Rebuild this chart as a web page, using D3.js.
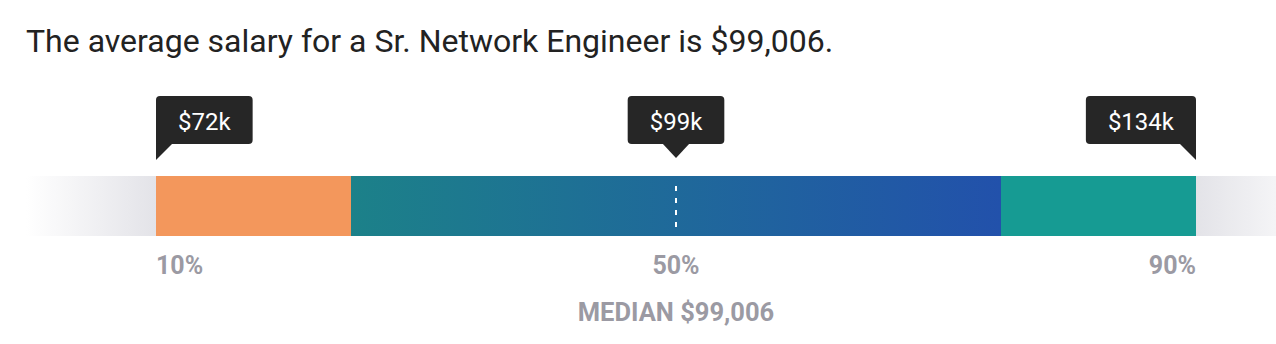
<!DOCTYPE html>
<html>
<head>
<meta charset="utf-8">
<script src="https://cdn.jsdelivr.net/npm/d3@7"></script>
<style>
  html, body { margin: 0; padding: 0; background: #ffffff; }
  svg { display: block; font-family: Roboto, "Noto Sans", sans-serif; }
</style>
</head>
<body>
<svg id="chart" width="1276" height="344"></svg>
<script>
// Salary percentile strip for a Sr. Network Engineer
const titleText = "The average salary for a Sr. Network Engineer is $99,006.";

// Percentile markers with their salary callouts
const markerPercentiles = [10, 50, 90];
const markerSalaries = [72, 99, 134];           // thousands of dollars
const markerLabels = ["10%", "50%", "90%"];

// Bands of the strip, in percentiles
const bandStarts = [0, 10, 25, 75, 90];
const bandEnds = [10, 25, 75, 90, 100];
const bandKinds = ["fadeLeft", "low", "middle", "high", "fadeRight"];

const medianSalary = 99006;

const svg = d3.select("#chart");
const x = d3.scaleLinear().domain([10, 90]).range([156, 1196]);

const barTop = 176, barHeight = 60;

// gradients
const defs = svg.append("defs");
function grad(id, stops) {
  const g = defs.append("linearGradient").attr("id", id)
    .attr("x1", "0%").attr("x2", "100%").attr("y1", "0%").attr("y2", "0%");
  stops.forEach(([o, c]) => g.append("stop").attr("offset", o).attr("stop-color", c));
}
grad("fadeLeft", [["0%", "#ffffff"], ["100%", "#e3e3e8"]]);
grad("fadeRight", [["0%", "#e3e3e8"], ["100%", "#ffffff"]]);
grad("middle", [["0%", "#1c8189"], ["100%", "#2251ab"]]);

const fills = {
  fadeLeft: "url(#fadeLeft)",
  low: "#f3975c",
  middle: "url(#middle)",
  high: "#169b93",
  fadeRight: "url(#fadeRight)"
};

// title
svg.append("text")
  .attr("x", 26).attr("y", 52)
  .attr("font-size", 32)
  .attr("fill", "#222222")
  .text(titleText);

// strip bands
svg.append("g").selectAll("rect")
  .data(bandKinds)
  .join("rect")
  .attr("x", (d, i) => x(bandStarts[i]))
  .attr("width", (d, i) => x(bandEnds[i]) - x(bandStarts[i]))
  .attr("y", barTop)
  .attr("height", barHeight)
  .attr("fill", d => fills[d]);

// median dashed line
svg.append("line")
  .attr("x1", x(50)).attr("x2", x(50))
  .attr("y1", 186).attr("y2", 227)
  .attr("stroke", "#ffffff")
  .attr("stroke-width", 2)
  .attr("stroke-dasharray", "5 7");

// percentile labels under the strip
const anchors = ["start", "middle", "end"];
svg.append("g").selectAll("text")
  .data(markerLabels)
  .join("text")
  .attr("x", (d, i) => x(markerPercentiles[i]))
  .attr("y", 274)
  .attr("text-anchor", (d, i) => anchors[i])
  .attr("font-size", 25)
  .attr("font-weight", 700)
  .attr("fill", "#9b9aa3")
  .text(d => d);

svg.append("text")
  .attr("x", x(50)).attr("y", 321)
  .attr("text-anchor", "middle")
  .attr("font-size", 25.5)
  .attr("font-weight", 700)
  .attr("fill", "#9b9aa3")
  .text("MEDIAN " + d3.format("$,")(medianSalary));

// callout boxes
const boxTop = 96, boxBottom = 144, padX = 22, tip = 15;
const tips = svg.append("g");
markerSalaries.forEach((v, i) => {
  const px = x(markerPercentiles[i]);
  const g = tips.append("g");
  const path = g.append("path").attr("fill", "#262626");
  const t = g.append("text")
    .attr("y", 129.5)
    .attr("font-size", 24)
    .attr("fill", "#ffffff")
    .attr("text-anchor", "middle")
    .text("$" + v + "k");
  const w = t.node().getComputedTextLength() + padX * 2;
  let left;
  if (anchors[i] === "start") left = px;
  else if (anchors[i] === "end") left = px - w;
  else left = px - w / 2;
  t.attr("x", left + w / 2);
  g.insert("rect", "text")
    .attr("x", left).attr("y", boxTop)
    .attr("width", w).attr("height", boxBottom - boxTop)
    .attr("rx", 4)
    .attr("fill", "#262626");
  let pts;
  if (anchors[i] === "start")
    pts = [[px, boxBottom - 5], [px + tip + 1, boxBottom - 5], [px + tip + 1, boxBottom], [px, boxBottom + tip + 1]];
  else if (anchors[i] === "end")
    pts = [[px, boxBottom - 5], [px - tip - 1, boxBottom - 5], [px - tip - 1, boxBottom], [px, boxBottom + tip + 1]];
  else
    pts = [[px - 14, boxBottom - 1], [px + 14, boxBottom - 1], [px, boxBottom + 14]];
  path.attr("d", d3.line()(pts) + "Z");
});
</script>
</body>
</html>
